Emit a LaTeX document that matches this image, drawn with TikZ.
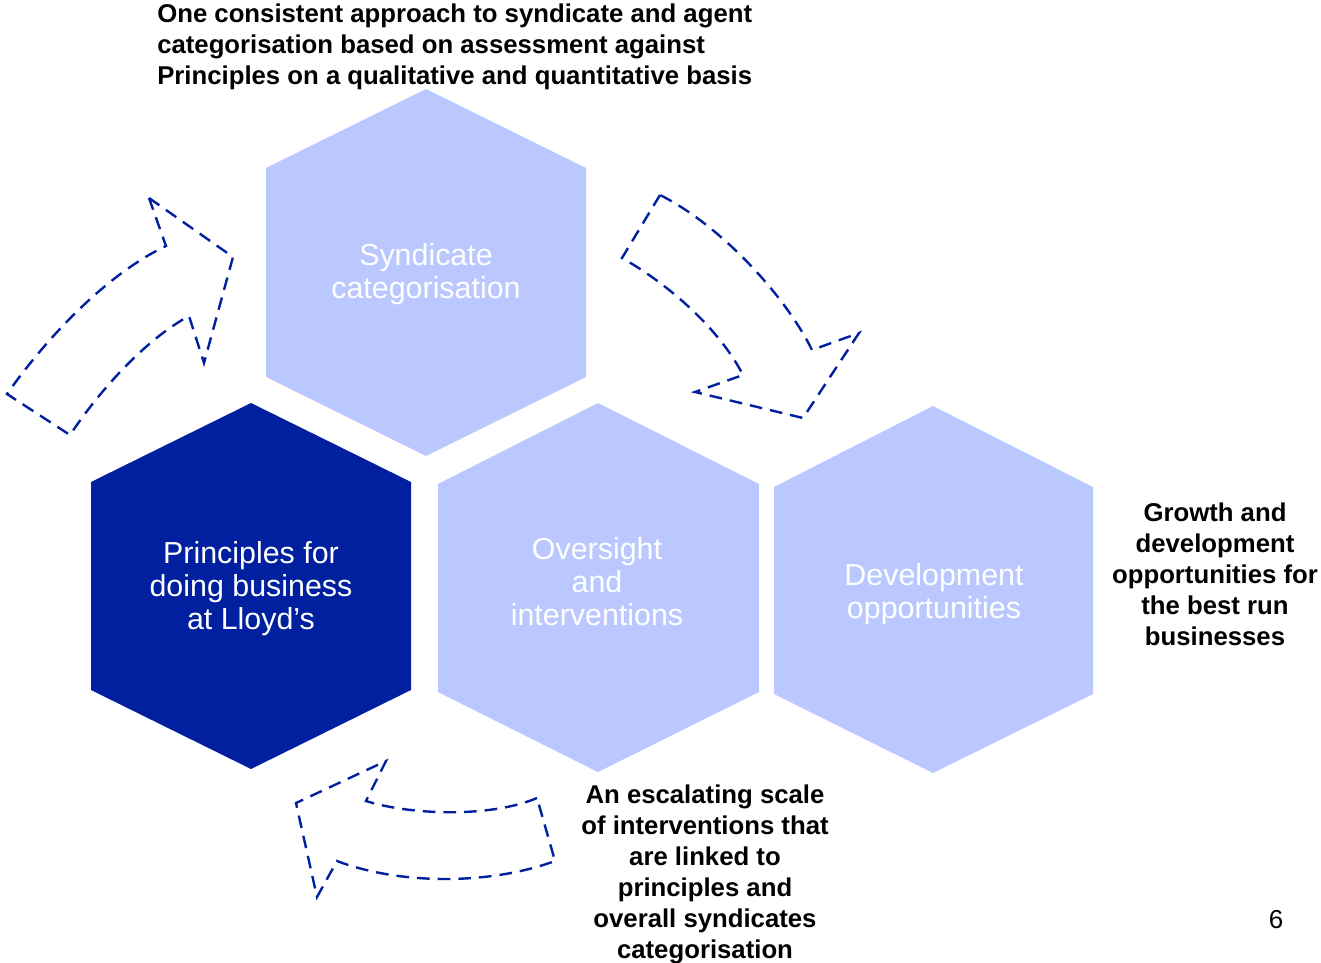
\documentclass[tikz,border=0pt]{standalone}
\usepackage{fontspec}
\setmainfont{Liberation Sans}
\definecolor{hexlight}{RGB}{186,200,255}
\definecolor{hexdark}{RGB}{0,32,160}
\definecolor{arrowblue}{RGB}{0,32,160}
\begin{document}
\begin{tikzpicture}[x=0.75pt,y=-0.75pt,
  hexfill/.style={fill=#1,draw=none},
  hextext/.style={text=white,align=center,inner sep=0pt,
    font=\fontsize{22.8}{24.75}\selectfont},
  note/.style={text=black,inner sep=0pt,
    font=\fontsize{19.3}{23.25}\selectfont\bfseries},
  bentarrow/.style={draw=arrowblue,line width=1.8pt,
    dash pattern=on 9.5pt off 6pt,line join=miter}]
\useasboundingbox (0,0) rectangle (1321,963);

% hexagons
\fill[hexfill=hexlight] (426,89) -- (586,168) -- (586,377) -- (426,456) -- (266,377) -- (266,168) -- cycle;
\fill[hexfill=hexdark] (251,403) -- (411,482) -- (411,690) -- (251,769) -- (91,690) -- (91,482) -- cycle;
\fill[hexfill=hexlight] (598,403) -- (759,484) -- (759,692) -- (598,772) -- (438,692) -- (438,484) -- cycle;
\fill[hexfill=hexlight] (933,406) -- (1093,487) -- (1093,694) -- (933,773) -- (774,694) -- (774,487) -- cycle;

% labels inside the hexagons
\node[hextext] (synd) at (426,274.5) {Syndicate\\categorisation};
\node[hextext] (princ) at (251,589) {Principles for\\doing business\\at Lloyd’s};
\node[hextext] (overs) at (597,582) {Oversight\\and\\interventions};
\node[hextext] (devel) at (934,594) {Development\\opportunities};

% explanatory notes
\node[note,anchor=west,align=left] (approach) at (157,46.5)
  {One consistent approach to syndicate and agent\\categorisation based on assessment against\\Principles on a qualitative and quantitative basis};
\node[note,align=center] (growth) at (1215,574)
  {Growth and\\development\\opportunities for\\the best run\\businesses};
\node[note,align=center] (scale) at (705,874.5)
  {An escalating scale\\of interventions that\\are linked to\\principles and\\overall syndicates\\categorisation};
\node[inner sep=0pt,font=\fontsize{19.5}{22}\selectfont] (page) at (1276,920) {6};

% curved arrow: principles -> categorisation
\draw[bentarrow] (149,198) -- (233,257) -- (204,363) -- (189,316)
  .. controls (145,340) and (100,390) .. (70,435) -- (7,394)
  .. controls (45,340) and (105,275) .. (166,246) -- cycle;

% curved arrow: categorisation -> development
\draw[bentarrow] (660,195) -- (622,258)
  .. controls (670,285) and (720,330) .. (743,375) -- (695,392)
  -- (803,418) -- (859,333) -- (812,350)
  .. controls (785,295) and (720,225) .. cycle;

% curved arrow: oversight -> principles
\draw[bentarrow] (537,798) .. controls (490,818) and (410,815) .. (366,801)
  -- (386,761) -- (296,803) -- (317,897) -- (337,861)
  .. controls (400,885) and (490,885) .. (555,861) -- cycle;
\end{tikzpicture}
\end{document}
